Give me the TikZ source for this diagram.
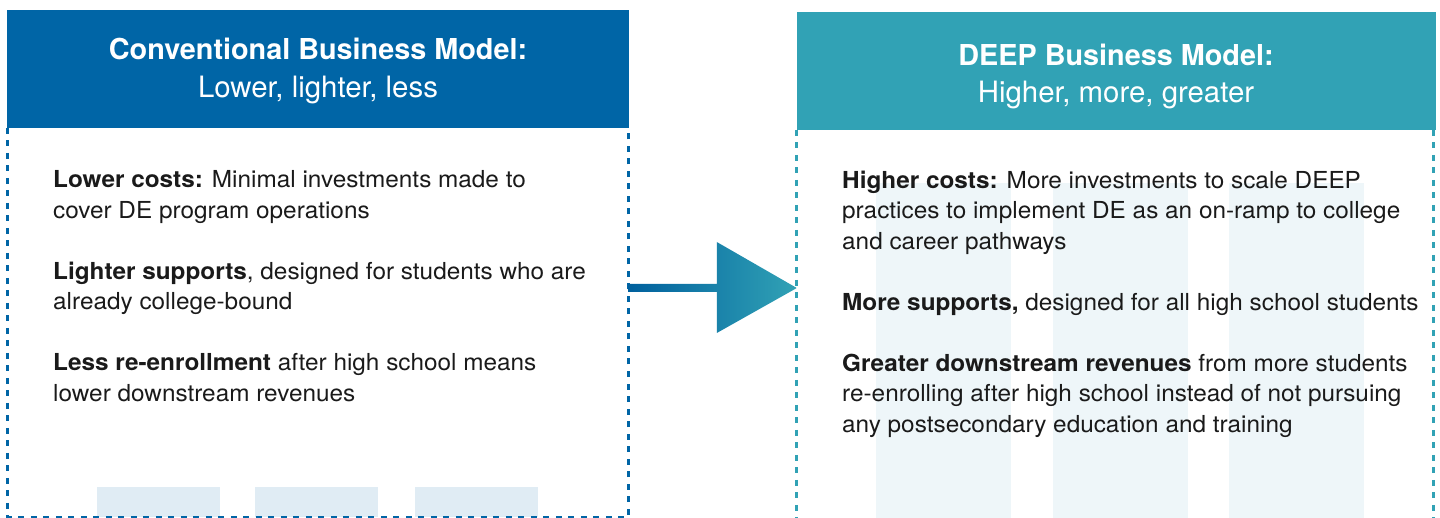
\documentclass[tikz,border=0pt]{standalone}
\usepackage{fontspec}
\setmainfont{TeX Gyre Heros}
\newfontfamily\bodyfont{TeX Gyre Heros}[FakeStretch=1.04]
\usepackage{xcolor}
\usepackage{tikz}
\usetikzlibrary{positioning}
\usetikzlibrary{calc}
\definecolor{convblue}{RGB}{0,101,166}
\definecolor{deepteal}{RGB}{49,162,181}
\definecolor{convbar}{RGB}{224,236,244}
\definecolor{deepbar}{RGB}{238,246,249}
\definecolor{ink}{RGB}{26,26,26}
\tikzstyle{bodybox}=[rectangle,fill=white,inner sep=0pt]
\tikzstyle{headtitle}=[text=white,anchor=base,font=\fontsize{28.8}{35}\selectfont\bfseries]
\tikzstyle{headsub}=[text=white,anchor=base,font=\fontsize{29.4}{35}\selectfont]
\tikzstyle{para}=[anchor=north west,inner sep=0pt,align=left,text=ink,font=\bodyfont\fontsize{23.4}{30.5}\selectfont]
\tikzstyle{arrowshade}=[left color=convblue!95!black,right color=deepteal]
\tikzset{headbox/.style={rectangle,fill=#1,inner sep=0pt}}
\tikzset{dashedge/.style={draw=#1,line width=3pt,dash pattern=on 6pt off 6.5pt}}

\begin{document}
\begin{tikzpicture}[x=1pt,y=-1pt]
  \useasboundingbox (0,0) rectangle (1440,518);

  % white panels under the headers
  \node[bodybox,minimum width=620pt,minimum height=389pt] (convbody) at (318,322.5) {};
  \node[bodybox,minimum width=636pt,minimum height=388pt] (deepbody) at (1115,324) {};

  % pale bars in the background
  \foreach \x in {97,255,415}
     \fill[convbar] (\x,487) rectangle ++(123,30);
  \foreach \x in {876,1053,1229}
     \fill[deepbar] (\x,183) rectangle ++(135,335);

  % dashed sides
  \draw[dashedge=convblue] (convbody.north west) -- (convbody.south west) -- (convbody.south east) -- (convbody.north east);
  \draw[dashedge=deepteal] (deepbody.north west) -- (deepbody.south west);
  \draw[dashedge=deepteal] (deepbody.north east) -- (deepbody.south east);

  % headers
  \node[headbox=convblue,minimum width=622pt,minimum height=118pt] (convhead) at (318,69) {};
  \node[headbox=deepteal,minimum width=639pt,minimum height=118pt] (deephead) at (1116.5,71) {};

  \node[headtitle] (convtitle) at (318,60) {Conventional Business Model:};
  \node[headsub] (convsub) at (318,97.3) {Lower, lighter, less};
  \node[headtitle] (deeptitle) at (1116,65.7) {DEEP Business Model:};
  \node[headsub] (deepsub) at (1116,102.7) {Higher, more, greater};

  % text of the two models
  \node[para] (convtext) at (53,170.5) {%
    \textbf{Lower costs:} Minimal investments made to\\
    cover DE program operations\\[30.5pt]
    \textbf{Lighter supports}, designed for students who are\\
    already college-bound\\[30.5pt]
    \textbf{Less re-enrollment} after high school means\\
    lower downstream revenues};
  \node[para] (deeptext) at (842,170.5) {%
    \textbf{Higher costs:} More investments to scale DEEP\\
    practices to implement DE as an on-ramp to college\\
    and career pathways\\[30.5pt]
    \textbf{More supports,} designed for all high school students\\[30.5pt]
    \textbf{Greater downstream revenues} from more students\\
    re-enrolling after high school instead of not pursuing\\
    any postsecondary education and training};

  % arrow from one model to the other
  \coordinate (arrowtail) at (convbody.east |- 0,288);
  \coordinate (arrowtip) at (deepbody.west |- 0,288);
  \shade[arrowshade] ($(arrowtail)+(0,-4)$) -- ($(arrowtip)+(-80,-4)$) -- ($(arrowtip)+(-80,-46)$)
     -- (arrowtip) -- ($(arrowtip)+(-80,45)$) -- ($(arrowtip)+(-80,4)$) -- ($(arrowtail)+(0,4)$) -- cycle;

\end{tikzpicture}
\end{document}
